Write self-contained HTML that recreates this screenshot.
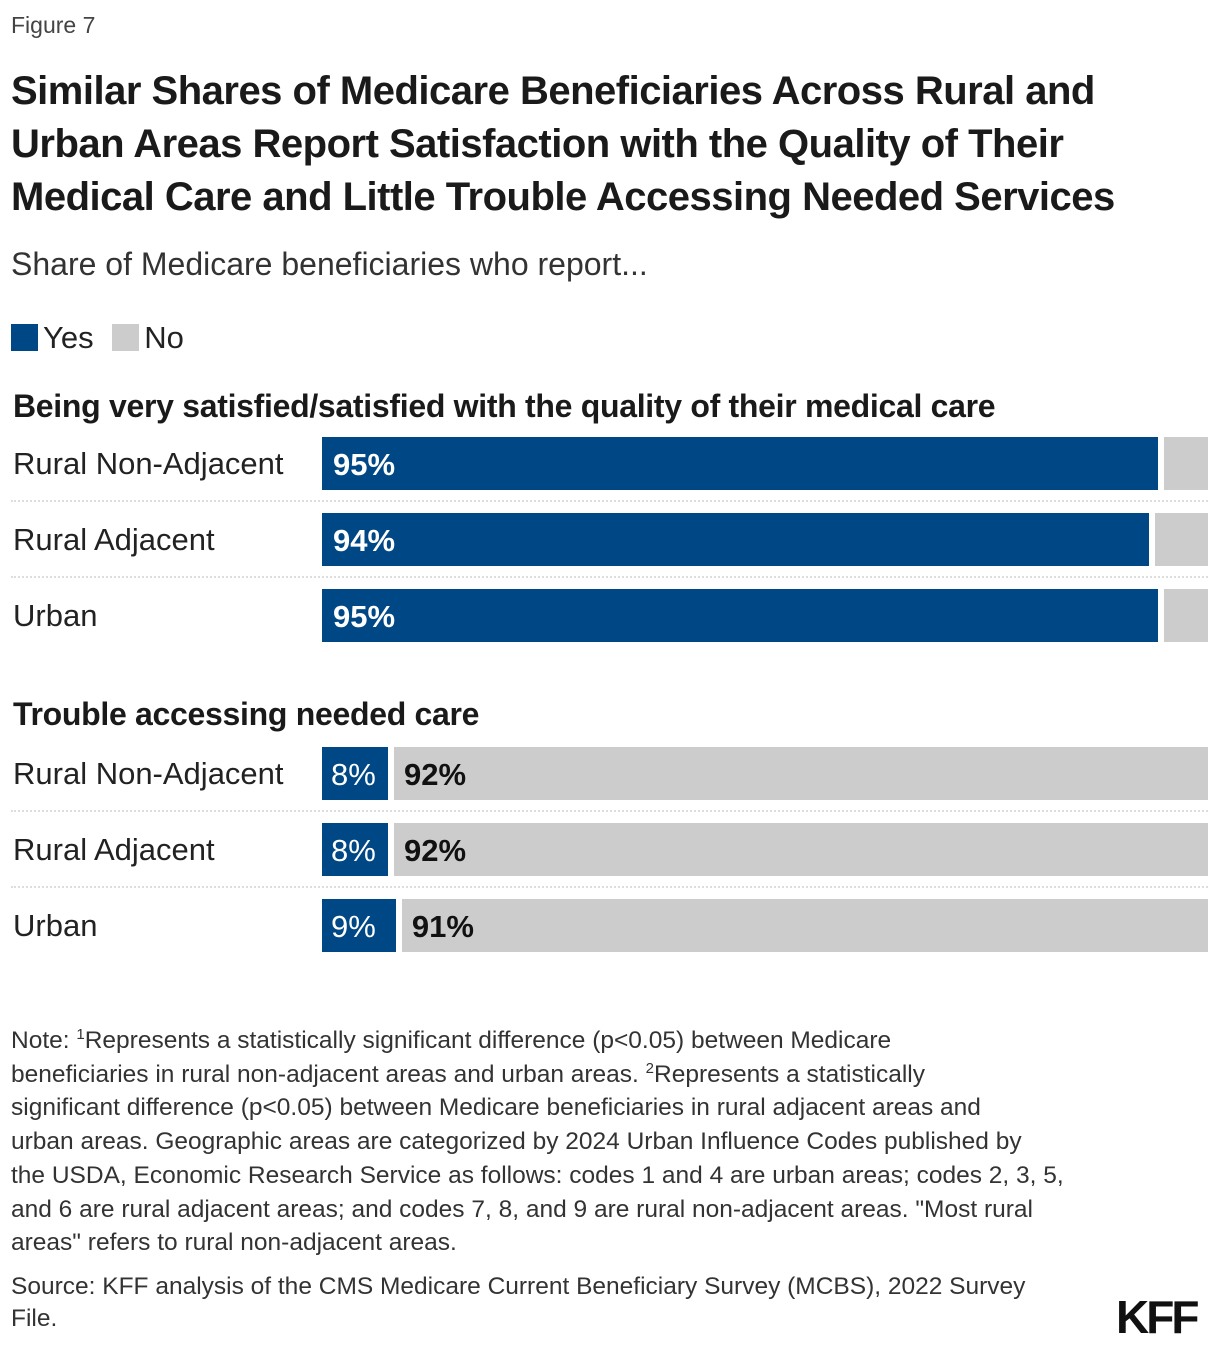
<!DOCTYPE html>
<html><head><meta charset="utf-8"><style>
body{margin:0;width:1220px;height:1348px;background:#fff;font-family:"Liberation Sans",sans-serif;color:#1a1a1a;position:relative;overflow:hidden}
.abs{position:absolute;white-space:nowrap}
.t{font-weight:bold;font-size:40px;left:11px;letter-spacing:-0.5px}
.lbl{font-size:31px;left:13px;color:#222}
.sec{font-weight:bold;font-size:32px;left:13px;letter-spacing:-0.3px}
.note{font-size:24.5px;left:11px;color:#333;line-height:33.7px}
sup{font-size:15px;line-height:0;position:relative;top:-9px;vertical-align:baseline}
</style></head><body>
<div class="abs" style="left:11px;top:12px;font-size:23px;color:#444">Figure 7</div>
<div class="abs t" style="top:65px;line-height:53px">Similar Shares of Medicare Beneficiaries Across Rural and<br>Urban Areas Report Satisfaction with the Quality of Their<br>Medical Care and Little Trouble Accessing Needed Services</div>
<div class="abs" style="left:11px;top:246px;font-size:32px;color:#333">Share of Medicare beneficiaries who report...</div>
<div class="abs" style="left:11px;top:320px;font-size:31px;color:#222">
<span><span style="display:inline-block;width:27px;height:27px;background:#004785;vertical-align:-3px;margin-right:5px"></span>Yes</span>
<span style="margin-left:10px"><span style="display:inline-block;width:27px;height:27px;background:#ccc;vertical-align:-3px;margin-right:5px"></span>No</span></div>
<div class="abs sec" style="top:388px">Being very satisfied/satisfied with the quality of their medical care</div>
<div class="abs sec" style="top:696px">Trouble accessing needed care</div>
<div id="chart"></div>
<div class="abs note" style="top:1024px">Note: <sup>1</sup>Represents a statistically significant difference (p&lt;0.05) between Medicare<br>beneficiaries in rural non-adjacent areas and urban areas. <sup>2</sup>Represents a statistically<br>significant difference (p&lt;0.05) between Medicare beneficiaries in rural adjacent areas and<br>urban areas. Geographic areas are categorized by 2024 Urban Influence Codes published by<br>the USDA, Economic Research Service as follows: codes 1 and 4 are urban areas; codes 2, 3, 5,<br>and 6 are rural adjacent areas; and codes 7, 8, and 9 are rural non-adjacent areas. "Most rural<br>areas" refers to rural non-adjacent areas.</div>
<div class="abs note" style="top:1271px;line-height:32px">Source: KFF analysis of the CMS Medicare Current Beneficiary Survey (MCBS), 2022 Survey<br>File.</div>
<div class="abs" style="left:1116px;top:1290px;font-size:46px;font-weight:bold;letter-spacing:-3px;color:#111">KFF</div>
<script>
const categories=["Rural Non-Adjacent","Rural Adjacent","Urban"];
const satYes=[95,94,95];
const satYesLabels=["95%","94%","95%"];
const troubleYes=[7.5,7.5,8.4];
const troubleYesLabels=["8%","8%","9%"];
const troubleNoLabels=["92%","92%","91%"];
const X0=322,PX=8.8,GAP=6,BH=53;
const x=v=>v*PX;
const chart=document.getElementById('chart');
function panel(top,yes,yl,nl,name){
 categories.forEach((c,i)=>{
  const y=top+i*76;
  const l=document.createElement('div');l.className='abs lbl';l.style.top=(y+9)+'px';l.textContent=c;
  
  
  chart.appendChild(l);
  if(i<2){const s=document.createElement('div');s.className='abs';
   s.style.cssText=`left:11px;top:${y+63}px;width:1197px;border-top:2px dotted #ddd`;
   
   
   chart.appendChild(s);}
  const w=x(yes[i]);
  const b=document.createElement('div');b.className='abs';
  b.style.cssText=`left:${X0}px;top:${y}px;width:${w}px;height:${BH}px;background:#004785;color:#fff;font-size:31px;line-height:${BH+2}px;box-sizing:border-box;padding-left:${name==='sat'?11:9}px;font-weight:${name==='sat'?'bold':'normal'}`;
  b.textContent=yl[i];
  
  
  chart.appendChild(b);
  const nb=document.createElement('div');nb.className='abs';
  const nx=X0+w+GAP;
  nb.style.cssText=`left:${nx}px;top:${y}px;width:${1208-nx}px;height:${BH}px;background:#ccc;color:#111;font-size:31px;line-height:${BH+2}px;box-sizing:border-box;padding-left:10px;font-weight:bold`;
  nb.textContent=nl?nl[i]:'';
  
  
  chart.appendChild(nb);
 });
}
panel(437,satYes,satYesLabels,null,'sat');
panel(747,troubleYes,troubleYesLabels,troubleNoLabels,'trouble');
</script>
</body></html>
